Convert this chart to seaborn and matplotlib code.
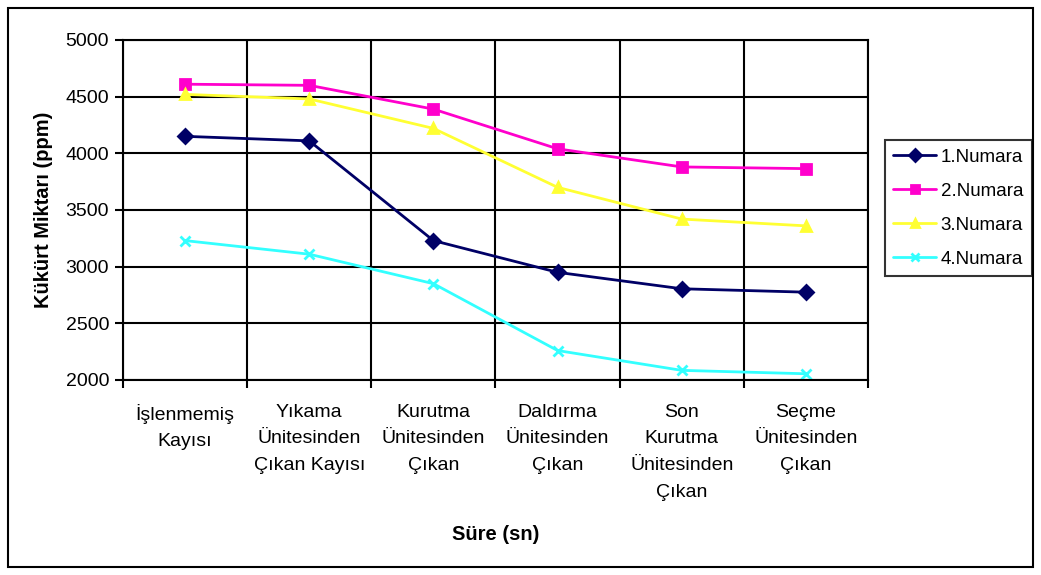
import numpy as np
import pandas as pd
import matplotlib
matplotlib.use("Agg")
import matplotlib.pyplot as plt
import seaborn as sns
from matplotlib.patches import Rectangle

# veriler
kategoriler = ["İşlenmemiş\nKayısı", "Yıkama\nÜnitesinden\nÇıkan Kayısı",
               "Kurutma\nÜnitesinden\nÇıkan", "Daldırma\nÜnitesinden\nÇıkan",
               "Son\nKurutma\nÜnitesinden\nÇıkan", "Seçme\nÜnitesinden\nÇıkan"]
seri_adlari = ["1.Numara", "2.Numara", "3.Numara", "4.Numara"]
numara1 = [4150, 4110, 3230, 2950, 2805, 2775]
numara2 = [4610, 4600, 4390, 4040, 3880, 3865]
numara3 = [4520, 4480, 4220, 3700, 3420, 3360]
numara4 = [3230, 3110, 2850, 2260, 2085, 2055]
renkler = ["#000066", "#FF00CC", "#FFFF33", "#33FFFF"]
isaretler = ["D", "s", "^", "X"]

sns.set_theme(style="white")
plt.rcParams['font.family'] = ['Liberation Sans', 'DejaVu Sans']
plt.rcParams['text.color'] = 'black'
plt.rcParams['xtick.color'] = 'black'
plt.rcParams['ytick.color'] = 'black'
plt.rcParams['axes.labelcolor'] = 'black'

rows = []
for ad, vals in zip(seri_adlari, [numara1, numara2, numara3, numara4]):
    for i, v in enumerate(vals):
        rows.append({"x": i, "Seri": ad, "ppm": v})
df = pd.DataFrame(rows)

fig = plt.figure(figsize=(10.41, 5.75), dpi=100)
ax = fig.add_axes([123 / 1041, 1 - 380 / 575, (868 - 123) / 1041, (380 - 40) / 575])

sns.lineplot(data=df, x="x", y="ppm", hue="Seri", style="Seri",
             palette=renkler, markers=isaretler, dashes=False, markersize=7,
             markeredgewidth=2, linewidth=2, sort=False, ax=ax)

ax.set_xlim(-0.5, 5.5)
ax.set_ylim(2000, 5000)
ax.set_yticks(np.arange(2000, 5001, 500))
ax.set_xticks(range(6))
ax.set_xticklabels(kategoriler, fontsize=14, linespacing=1.76, va="top")
ax.set_xticks(np.arange(-0.5, 5.6, 1), minor=True)
ax.tick_params(axis="x", which="major", length=0, pad=17)
ax.tick_params(axis="x", which="minor", length=6, width=1.5, color="black", direction="out", bottom=True)
ax.tick_params(axis="y", length=6, width=1.5, color="black", direction="out", left=True, labelsize=14, pad=4)
ax.grid(True, axis="y", color="black", linewidth=1.5)
ax.grid(True, axis="x", which="minor", color="black", linewidth=1.5)
ax.set_axisbelow(True)
for s in ax.spines.values():
    s.set_color("black")
    s.set_linewidth(1.5)

ax.set_xlabel("Süre (sn)", fontsize=14.5, fontweight="bold", labelpad=17)
ax.set_ylabel("Kükürt Miktarı (ppm)", fontsize=14.5, fontweight="bold", labelpad=9)

leg = ax.legend(loc="center left", bbox_to_anchor=(1.0228, 0.506), frameon=True,
                fontsize=13.5, handlelength=2.25, handletextpad=0.27,
                labelspacing=0.9, borderpad=0.45, borderaxespad=0, fancybox=False)
leg.get_frame().set_edgecolor("black")
leg.get_frame().set_linewidth(1.5)

# isaret renkleri; 4. seri ince x
for line, c in zip(list(ax.lines[:4]) + list(leg.legend_handles), renkler * 2):
    line.set_markeredgecolor(c)
    line.set_markerfacecolor(c)
ax.lines[3].set_marker("x")
leg.legend_handles[3].set_marker("x")
for h in leg.legend_handles:
    h.set_markersize(6)

fig.patches.append(Rectangle((8 / 1041, 8 / 575), 1 - 16 / 1041, 1 - 16 / 575,
                             transform=fig.transFigure, fill=False,
                             edgecolor="black", linewidth=1.5))

fig.savefig("out.png", dpi=100)
plt.close()
